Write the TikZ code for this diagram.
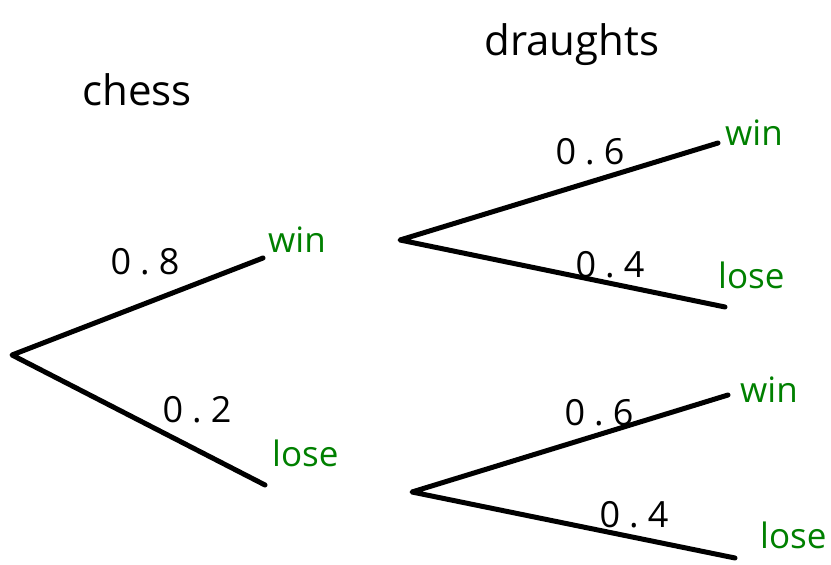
\documentclass[tikz,border=0pt]{standalone}
\usepackage{fontspec}
\setmainfont{Open Sans}
\newfontfamily\probfont[LetterSpace=25]{Open Sans}
\definecolor{lblgreen}{RGB}{0,128,0}
\begin{document}
\begin{tikzpicture}[x=1pt,y=-1pt,
  branch/.style={line width=5pt,line cap=round,line join=round},
  prob/.style={font=\probfont\fontsize{36}{42}\selectfont,inner sep=0pt},
  outc/.style={font=\fontsize{35}{40}\selectfont,text=lblgreen,inner sep=0pt},
  head/.style={font=\fontsize{42}{48}\selectfont,inner sep=0pt}]
\useasboundingbox (0,0) rectangle (831,565);
% headings
\node[head] (hchess) at (137,90) {chess};
\node[head] (hdraughts) at (572,45) {draughts};
% first stage
\coordinate (root) at (12,355);
\coordinate (w1) at (263,258);
\coordinate (l1) at (265,485);
\draw[branch] (w1) -- (root) -- (l1);
\node[prob] (p08) at (145,262) {0.8};
\node[prob] (p02) at (197,410) {0.2};
\node[outc,anchor=west] (ow1) at (268,240) {win};
\node[outc,anchor=west] (ol1) at (272,453) {lose};
% second stage upper
\coordinate (s1) at (400,240);
\coordinate (s1w) at (718,143);
\coordinate (s1l) at (725,307);
\draw[branch] (s1w) -- (s1) -- (s1l);
\node[prob] (p06a) at (590,152) {0.6};
\node[prob] (p04a) at (610,265) {0.4};
\node[outc,anchor=west] (ow2) at (725,133) {win};
\node[outc,anchor=west] (ol2) at (718,275) {lose};
% second stage lower
\coordinate (s2) at (412,492);
\coordinate (s2w) at (728,395);
\coordinate (s2l) at (735,558);
\draw[branch] (s2w) -- (s2) -- (s2l);
\node[prob] (p06b) at (599,413) {0.6};
\node[prob] (p04b) at (634,515) {0.4};
\node[outc,anchor=west] (ow3) at (740,390) {win};
\node[outc,anchor=west] (ol3) at (760,535) {lose};
\end{tikzpicture}
\end{document}
